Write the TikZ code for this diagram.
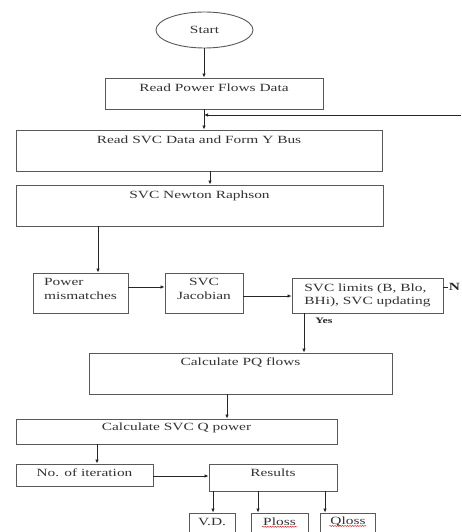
\documentclass[tikz,border=0pt]{standalone}
\usepackage{fontspec}
\setmainfont[FakeStretch=1.4]{Liberation Serif}
\usetikzlibrary{arrows.meta,shapes.geometric,decorations.pathmorphing}
\begin{document}
\begin{tikzpicture}[x=1pt,y=-1pt,
  box/.style={draw=black!65, line width=0.9pt, rectangle, inner sep=0pt, text=black!80},
  tl/.style={anchor=center, text=black!80, inner sep=1pt},
  arr/.style={draw=black!85, line width=0.8pt, -{Latex[length=4pt,width=3.5pt]}},
  ln/.style={draw=black!85, line width=0.8pt},
  squig/.style={draw=red!80!black, line width=0.4pt, decorate, decoration={snake, amplitude=0.5pt, segment length=2.5pt}},
  font=\fontsize{11}{13.5}\selectfont]
\useasboundingbox[fill=white] (0,0) rectangle (461,532);

% nodes
\node[box, ellipse, minimum width=97pt, minimum height=36pt] (start) at (204.5,30) {Start};
\node[box, minimum width=218pt, minimum height=31pt,
  label={[tl,yshift=-10pt]north:Read Power Flows Data}] (rpf) at (214,93.5) {};
\node[box, minimum width=366pt, minimum height=41pt,
  label={[tl,yshift=-10pt]north:Read SVC Data and Form Y Bus}] (rsvc) at (199,150.5) {};
\node[box, minimum width=367pt, minimum height=41pt,
  label={[tl,yshift=-11pt]north:SVC Newton Raphson}] (nr) at (199.5,205.5) {};
\node[box, minimum width=95pt, minimum height=40pt,
  label={[tl,align=left,yshift=-16.5pt]north:Power\\mismatches}] (pm) at (80.5,293) {};
\node[box, minimum width=78pt, minimum height=40pt,
  label={[tl,align=center,yshift=-16.5pt]north:SVC\\Jacobian}] (jac) at (204,293) {};
\node[box, minimum width=151pt, minimum height=35pt, align=left] (lim) at (367.5,295.5)
  {SVC limits (B, Blo,\\BHi), SVC updating};
\node[box, minimum width=303pt, minimum height=41pt,
  label={[tl,yshift=-10pt]north:Calculate PQ flows}] (pq) at (240.5,373.5) {};
\node[box, minimum width=321pt, minimum height=25pt,
  label={[tl,yshift=-9pt]north:Calculate SVC Q power}] (q) at (176.5,431.5) {};
\node[box, minimum width=137pt, minimum height=22pt,
  label={[tl,yshift=-9pt]north:No. of iteration}] (it) at (84.5,475) {};
\node[box, minimum width=128pt, minimum height=27pt,
  label={[tl,yshift=-9pt]north:Results}] (res) at (273,477.5) {};
\node[box, minimum width=46pt, minimum height=32pt,
  label={[tl,yshift=-9pt]north:V.D.}] (vd) at (212,529) {};
\node[box, minimum width=57pt, minimum height=32pt,
  label={[tl,yshift=-9pt,name=plt]north:Ploss}] (pl) at (279.5,529) {};
\node[box, minimum width=55pt, minimum height=32pt,
  label={[tl,yshift=-9pt,name=qlt]north:Qloss}] (ql) at (348,529) {};

\node[font=\fontsize{8.5}{10}\selectfont\bfseries, text=black!85, inner sep=0pt] (yes) at (324,321) {Yes};

% helper coordinates
\coordinate (x204) at (204,0);
\coordinate (x210) at (210,0);
\coordinate (x98) at (98,0);
\coordinate (x304) at (304,0);
\coordinate (x227) at (227,0);
\coordinate (x97) at (97,0);
\coordinate (x213) at (213,0);
\coordinate (x258) at (258,0);
\coordinate (x325) at (325,0);
\coordinate (y287) at (0,287);
\coordinate (y296) at (0,296);
\coordinate (y476) at (0,476);
\coordinate (fb) at (461,115);

% connectors
\draw[arr] (start.south -| x204) -- (rpf.north -| x204);
\draw[arr] (rpf.south -| x204) -- (rsvc.north -| x204);
\draw[arr] (fb) -- (fb -| x204);
\draw[arr] (rsvc.south -| x210) -- (nr.north -| x210);
\draw[arr] (nr.south -| x98) -- (pm.north -| x98);
\draw[arr] (pm.east |- y287) -- (jac.west |- y287);
\draw[arr] (jac.east |- y296) -- (lim.west |- y296);
\draw[ln] (lim.east |- y287) -- ++(4.5,0) node[anchor=west, inner sep=0.5pt, font=\fontsize{11}{13}\selectfont\bfseries, text=black!85] (no) {N};
\draw[arr] (lim.south -| x304) -- (pq.north -| x304);
\draw[arr] (pq.south -| x227) -- (q.north -| x227);
\draw[arr] (q.south -| x97) -- (it.north -| x97);
\draw[arr] (it.east |- y476) -- (res.west |- y476);
\draw[arr] (res.south -| x213) -- (vd.north -| x213);
\draw[arr] (res.south -| x258) -- (pl.north -| x258);
\draw[arr] (res.south -| x325) -- (ql.north -| x325);

% spell-check underlines
\draw[squig] ([yshift=-1.5pt]plt.base west) -- ([yshift=-1.5pt]plt.base east);
\draw[squig] ([yshift=-1.5pt]qlt.base west) -- ([yshift=-1.5pt]qlt.base east);
\end{tikzpicture}
\end{document}
